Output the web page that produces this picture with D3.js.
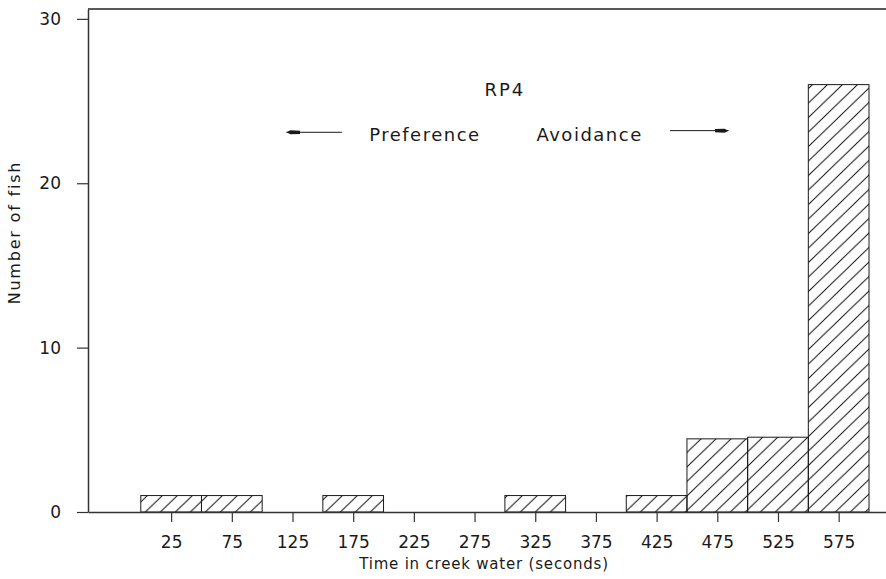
<!DOCTYPE html>
<html>
<head>
<meta charset="utf-8">
<script src="https://cdn.jsdelivr.net/npm/d3@7"></script>
<style>
  body { margin: 0; background: #fff; }
  svg { display: block; background: #fff; }
</style>
</head>
<body>
<div class="chart-container"></div>
<script>
//! DATA
const binCenters = [25, 75, 125, 175, 225, 275, 325, 375, 425, 475, 525, 575];
const fishCounts = [1, 1, 0, 1, 0, 0, 1, 0, 1, 4.45, 4.55, 26];
const binWidth = 50;
const yTickValues = [0, 10, 20, 30];
const titleText = 'RP4';
const leftLabel = 'Preference';
const rightLabel = 'Avoidance';
const xTitle = 'Time in creek water (seconds)';
const yTitle = 'Number of fish';

//! CONSTS
const width = 886;
const height = 579;
const plotLeft = 88;
const plotTop = 9;
const plotBottom = 512;
const font = '"DejaVu Sans", Verdana, sans-serif';
const ink = '#1a1a1a';

//! SVG
const svg = d3.select('.chart-container')
  .append('svg')
  .attr('width', width)
  .attr('height', height)
  .attr('font-family', font);

//! SCALES
const xScale = d3.scaleLinear()
  .domain([-43.5, 614])
  .range([plotLeft, width]);

const yScale = d3.scaleLinear()
  .domain([0, 30.6])
  .range([plotBottom, plotTop]);

//! HATCH PATTERN
const hw = 15, hh = 14.5;
svg.append('defs')
  .append('pattern')
  .attr('id', 'hatch')
  .attr('patternUnits', 'userSpaceOnUse')
  .attr('width', hw)
  .attr('height', hh)
  .append('path')
  .attr('d', `M0,${hh} L${hw},0 M${-hw / 4},${hh / 4} L${hw / 4},${-hh / 4} M${hw * 0.75},${hh * 1.25} L${hw * 1.25},${hh * 0.75}`)
  .attr('stroke', '#111')
  .attr('stroke-width', 1)
  .attr('fill', 'none');

svg.select('defs')
  .append('marker')
  .attr('id', 'head')
  .attr('viewBox', '0 0 14 6')
  .attr('refX', 14)
  .attr('refY', 3)
  .attr('markerWidth', 14)
  .attr('markerHeight', 6)
  .attr('markerUnits', 'userSpaceOnUse')
  .attr('orient', 'auto')
  .append('path')
  .attr('d', 'M0,1.4 L10,1 L14,3 L10,5 L0,4.6 Z')
  .attr('fill', ink);

//! BARS
const bins = binCenters
  .map((c, i) => ({ c, n: fishCounts[i] }))
  .filter(d => d.n > 0);

svg.append('g')
  .selectAll('rect')
  .data(bins)
  .join('rect')
  .attr('x', d => xScale(d.c - binWidth / 2))
  .attr('y', d => yScale(d.n))
  .attr('width', d => xScale(d.c + binWidth / 2) - xScale(d.c - binWidth / 2))
  .attr('height', d => yScale(0) - yScale(d.n))
  .attr('fill', 'url(#hatch)')
  .attr('stroke', ink)
  .attr('stroke-width', 1);

//! AXES
const xAxis = d3.axisBottom(xScale)
  .tickValues(binCenters)
  .tickSize(10)
  .tickSizeOuter(0)
  .tickPadding(14);

const yAxis = d3.axisLeft(yScale)
  .tickValues(yTickValues)
  .tickSize(11)
  .tickSizeOuter(0)
  .tickPadding(16);

const gx = svg.append('g')
  .attr('transform', `translate(0,${plotBottom})`)
  .call(xAxis);

const gy = svg.append('g')
  .attr('transform', `translate(${plotLeft},0)`)
  .call(yAxis);

[gx, gy].forEach(g => {
  g.attr('font-family', font).attr('font-size', 17);
  g.select('.domain').attr('stroke', '#333').attr('stroke-width', 1.5);
  g.selectAll('.tick line').attr('stroke', '#333').attr('stroke-width', 1.2);
  g.selectAll('.tick text').attr('fill', ink);
});

// top frame line
svg.append('line')
  .attr('x1', plotLeft)
  .attr('x2', width)
  .attr('y1', yScale.range()[1])
  .attr('y2', yScale.range()[1])
  .attr('stroke', '#222')
  .attr('stroke-width', 1.6);

//! TITLES
svg.append('text')
  .attr('x', xScale(xScale.domain().reduce((a, b) => a + b) / 2) - 3)
  .attr('y', 569)
  .attr('text-anchor', 'middle')
  .attr('font-size', 15)
  .attr('letter-spacing', 0.8)
  .attr('fill', ink)
  .text(xTitle);

svg.append('text')
  .attr('transform', `translate(20,${yScale(17)}) rotate(-90)`)
  .attr('text-anchor', 'middle')
  .attr('font-size', 16)
  .attr('letter-spacing', 1.8)
  .attr('fill', ink)
  .text(yTitle);

//! ANNOTATIONS
svg.append('text')
  .attr('x', xScale(300))
  .attr('y', yScale(25.3))
  .attr('text-anchor', 'middle')
  .attr('font-size', 18)
  .attr('letter-spacing', 2)
  .attr('fill', ink)
  .text(titleText);

svg.append('text')
  .attr('x', xScale(280))
  .attr('y', yScale(22.55))
  .attr('text-anchor', 'end')
  .attr('font-size', 18)
  .attr('letter-spacing', 1.5)
  .attr('fill', ink)
  .text(leftLabel);

svg.append('text')
  .attr('x', xScale(326))
  .attr('y', yScale(22.6))
  .attr('text-anchor', 'start')
  .attr('font-size', 18)
  .attr('letter-spacing', 1.5)
  .attr('fill', ink)
  .text(rightLabel);

svg.append('line')
  .attr('x1', xScale(165.7))
  .attr('x2', xScale(120))
  .attr('y1', yScale(23.1))
  .attr('y2', yScale(23.1))
  .attr('stroke', ink)
  .attr('stroke-width', 1)
  .attr('marker-end', 'url(#head)');

svg.append('line')
  .attr('x1', xScale(436))
  .attr('x2', xScale(484.3))
  .attr('y1', yScale(23.2))
  .attr('y2', yScale(23.2))
  .attr('stroke', ink)
  .attr('stroke-width', 1)
  .attr('marker-end', 'url(#head)');
</script>
</body>
</html>
